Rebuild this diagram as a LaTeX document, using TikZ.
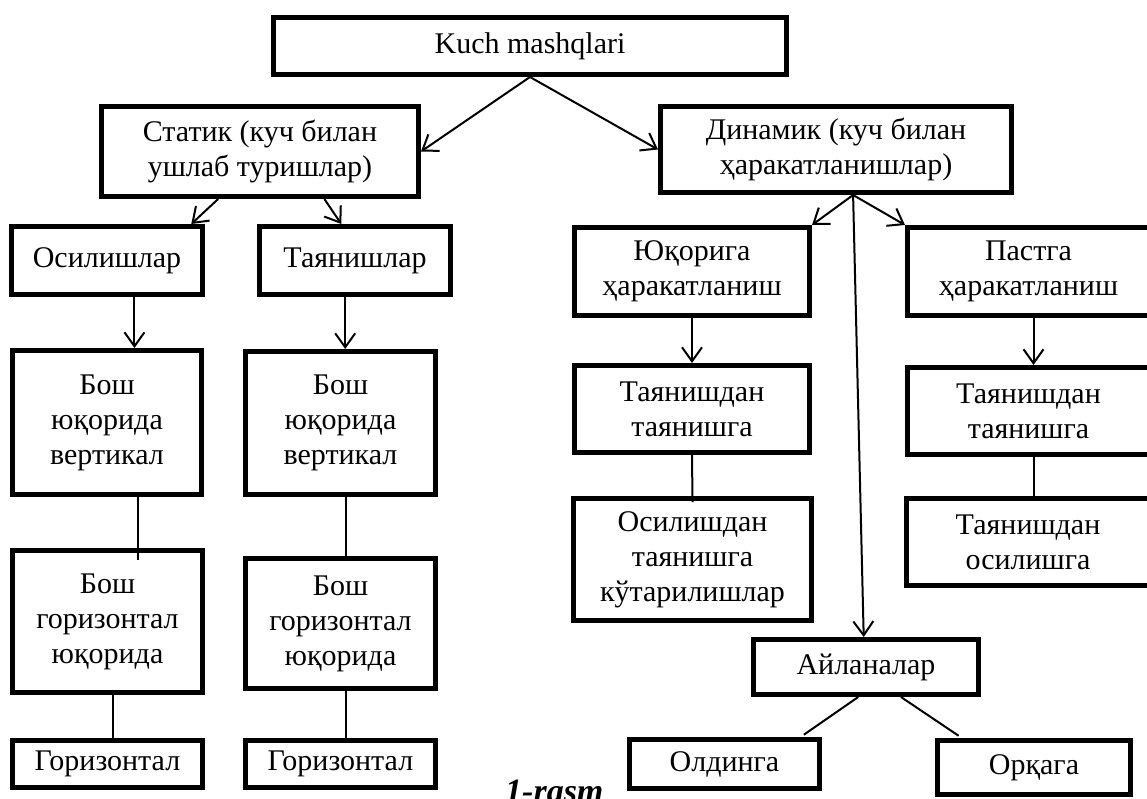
\documentclass[tikz,border=0pt]{standalone}
\usepackage{fontspec}
\setmainfont{Liberation Serif}
\usetikzlibrary{arrows.meta,calc}
\begin{document}
\begin{tikzpicture}[x=1pt,y=-1pt,
  box/.style={draw,line width=5pt,align=center,inner sep=0pt,font=\fontsize{30}{35}\selectfont},
  arr/.style={line width=2pt,-{Straight Barb[length=14pt,width=20pt,line width=2pt]}},
  ln/.style={line width=2pt}]
\useasboundingbox (0,0) rectangle (1147,798);
% boxes
\node[box,minimum width=513pt,minimum height=57pt] (top) at (530,46) {Kuch mashqlari};
\node[box,minimum width=317pt,minimum height=90pt] (stat) at (260,151.5) {Статик (куч билан\\ушлаб туришлар)};
\node[box,minimum width=351pt,minimum height=86pt] (dyn) at (836,149.5) {Динамик (куч билан\\ҳаракатланишлар)};
\node[box,minimum width=191pt,minimum height=68pt] (osil) at (107,260.5) {Осилишлар};
\node[box,minimum width=191pt,minimum height=68pt] (tayan) at (355,260.5) {Таянишлар};
\node[box,minimum width=235pt,minimum height=88pt] (yuq) at (692,271.5) {Юқорига\\ҳаракатланиш};
\node[box,minimum width=242pt,minimum height=88pt] (pst) at (1028.5,271.5) {Пастга\\ҳаракатланиш};
\node[box,minimum width=189pt,minimum height=144pt] (bvl) at (107,422.5) {Бош\\юқорида\\вертикал};
\node[box,minimum width=190pt,minimum height=143pt] (bvr) at (340.5,423) {Бош\\юқорида\\вертикал};
\node[box,minimum width=190pt,minimum height=142pt] (bgl) at (107.5,621.5) {Бош\\горизонтал\\юқорида};
\node[box,minimum width=190pt,minimum height=130pt] (bgr) at (340.5,623.5) {Бош\\горизонтал\\юқорида};
\node[box,minimum width=190pt,minimum height=47pt] (hl) at (107.5,764) {Горизонтал};
\node[box,minimum width=190pt,minimum height=47pt] (hr) at (340.5,764) {Горизонтал};
\node[box,minimum width=235pt,minimum height=87pt] (tta) at (692,409) {Таянишдан\\таянишга};
\node[box,minimum width=242pt,minimum height=87pt] (ttb) at (1028.5,411) {Таянишдан\\таянишга};
\node[box,minimum width=238pt,minimum height=122pt] (ot) at (692.5,559.5) {Осилишдан\\таянишга\\кўтарилишлар};
\node[box,minimum width=243pt,minimum height=87pt] (tos) at (1028,542) {Таянишдан\\осилишга};
\node[box,minimum width=225pt,minimum height=55pt] (ayl) at (866,667) {Айланалар};
\node[box,minimum width=190pt,minimum height=49pt] (old) at (724.5,764) {Олдинга};
\node[box,minimum width=193pt,minimum height=54pt] (ork) at (1034,767.5) {Орқага};
\node[anchor=base west,inner sep=0pt,font=\fontsize{34}{40}\selectfont\bfseries\itshape] (cap) at (505,802) {1-rasm};
% connectors
\draw[arr] (top.south) -- (stat.east);
\draw[arr] (top.south) -- (dyn.west);
\draw[arr] ($(stat.south west)!0.37!(stat.south east)$) -- ($(osil.north west)!0.93!(osil.north east)$);
\draw[arr] ($(stat.south west)!0.70!(stat.south east)$) -- ($(tayan.north west)!0.43!(tayan.north east)$);
\coordinate (p1) at ($(osil.south west)!0.64!(osil.south east)$);
\draw[arr] (p1) -- (p1 |- bvl.north);
\coordinate (p2) at ($(tayan.south west)!0.45!(tayan.south east)$);
\draw[arr] (p2) -- (p2 |- bvr.north);
\coordinate (p3) at ($(bvl.south west)!0.66!(bvl.south east)$);
\draw[ln] (p3) -- ([yshift=-12pt]p3 |- bgl.north);
\coordinate (p4) at ($(bvr.south west)!0.53!(bvr.south east)$);
\draw[ln] (p4) -- (p4 |- bgr.north);
\coordinate (p5) at ($(bgl.south west)!0.53!(bgl.south east)$);
\draw[ln] (p5) -- (p5 |- hl.north);
\coordinate (p6) at ($(bgr.south west)!0.53!(bgr.south east)$);
\draw[ln] (p6) -- (p6 |- hr.north);
\coordinate (d0) at ($(dyn.south west)!0.548!(dyn.south east)$);
\draw[arr] (d0) -- (yuq.north east);
\draw[arr] (d0) -- (pst.north west);
\draw[arr] (d0) -- ($(ayl.north west)!0.49!(ayl.north east)$);
\draw[arr] (yuq.south) -- (tta.north);
\coordinate (p7) at ([xshift=5pt]pst.south);
\draw[arr] (p7) -- (p7 |- ttb.north);
\draw[ln] (tta.south) -- ([yshift=-6pt]ot.north);
\coordinate (p8) at ([xshift=5pt]ttb.south);
\draw[ln] (p8) -- (p8 |- tos.north);
\draw[ln,shorten >=4pt] ($(ayl.south west)!0.466!(ayl.south east)$) -- ($(old.north west)!0.89!(old.north east)$);
\draw[ln,shorten >=4pt] ($(ayl.south west)!0.652!(ayl.south east)$) -- ($(ork.north west)!0.136!(ork.north east)$);
\end{tikzpicture}
\end{document}
